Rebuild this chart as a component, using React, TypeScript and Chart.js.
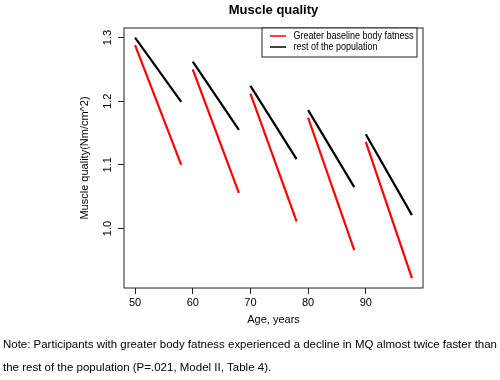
import React, { useEffect, useRef } from "react";
import { Chart, registerables } from "chart.js";

Chart.register(...registerables);

const chartTitle = "Muscle quality";
const xTitle = "Age, years";
const yTitle = "Muscle quality(Nm/cm^2)";
const seriesNames = ["Greater baseline body fatness", "rest of the population"];
const seriesColors = ["#ff0000", "#000000"];
const segmentStartAges = [50, 60, 70, 80, 90];
const segmentEndAges = [58, 68, 78, 88, 98];
const fatnessStart = [1.288, 1.25, 1.212, 1.174, 1.136];
const fatnessEnd = [1.1, 1.056, 1.011, 0.966, 0.922];
const restStart = [1.3, 1.262, 1.224, 1.186, 1.148];
const restEnd = [1.199, 1.155, 1.109, 1.065, 1.021];
const xTicks = [50, 60, 70, 80, 90];
const yTicks = [1.0, 1.1, 1.2, 1.3];
const noteLines = [
  "Note: Participants with greater body fatness experienced a decline in MQ almost twice faster than",
  "the rest of the population (P=.021, Model II, Table 4).",
];

const FONT = "'Liberation Sans', Arial, Helvetica, sans-serif";

function buildSegments(starts: number[], ends: number[]) {
  const pts: { x: number; y: number | null }[] = [];
  for (let i = 0; i < starts.length; i++) {
    pts.push({ x: segmentStartAges[i], y: starts[i] });
    pts.push({ x: segmentEndAges[i], y: ends[i] });
    pts.push({ x: segmentEndAges[i] + 1, y: null });
  }
  return pts;
}

const rStylePlugin = {
  id: "rStyle",
  afterDraw(chart: any) {
    const { ctx, chartArea } = chart;
    const { left, right, top, bottom } = chartArea;
    const xs = chart.scales.x;
    const ys = chart.scales.y;
    ctx.save();
    // box
    ctx.strokeStyle = "#222";
    ctx.lineWidth = 1;
    ctx.strokeRect(left, top, right - left, bottom - top);

    ctx.fillStyle = "#000";
    // title
    ctx.font = `bold 13px ${FONT}`;
    ctx.textAlign = "center";
    ctx.textBaseline = "middle";
    ctx.fillText(chartTitle, (left + right) / 2, 10);

    // x tick labels
    ctx.font = `11px ${FONT}`;
    xTicks.forEach((v) => {
      ctx.fillText(String(v), xs.getPixelForValue(v), 303);
    });
    // x title
    ctx.fillText(xTitle, (left + right) / 2, 320);

    // y tick labels (rotated)
    yTicks.forEach((v) => {
      ctx.save();
      ctx.translate(107.5, ys.getPixelForValue(v));
      ctx.rotate(-Math.PI / 2);
      ctx.fillText(v.toFixed(1), 0, 0);
      ctx.restore();
    });
    // y title
    ctx.save();
    ctx.translate(85, (top + bottom) / 2);
    ctx.rotate(-Math.PI / 2);
    ctx.fillText(yTitle, 0, 0);
    ctx.restore();

    // legend
    const lx0 = right - 161;
    const lx1 = right - 6;
    const ly0 = top;
    const ly1 = top + 29;
    ctx.fillStyle = "#fff";
    ctx.fillRect(lx0, ly0, lx1 - lx0, ly1 - ly0);
    ctx.strokeStyle = "#222";
    ctx.lineWidth = 1;
    ctx.strokeRect(lx0, ly0, lx1 - lx0, ly1 - ly0);
    ctx.font = `10px ${FONT}`;
    ctx.textAlign = "left";
    seriesNames.forEach((name, i) => {
      const y = ly0 + 8 + i * 11;
      ctx.strokeStyle = seriesColors[i];
      ctx.lineWidth = 1.5;
      ctx.beginPath();
      ctx.moveTo(lx0 + 8, y);
      ctx.lineTo(lx0 + 24, y);
      ctx.stroke();
      ctx.fillStyle = "#000";
      const w = ctx.measureText(name).width;
      ctx.fillText(name, lx0 + 31.5, y, w * 0.9);
    });

    // note
    ctx.font = `11.5px ${FONT}`;
    ctx.fillStyle = "#000";
    ctx.textAlign = "left";
    noteLines.forEach((line, i) => {
      ctx.fillText(line, 3, 345 + i * 23, 494);
    });
    ctx.restore();
  },
};

export default function App() {
  const canvasRef = useRef<HTMLCanvasElement | null>(null);

  useEffect(() => {
    const canvas = canvasRef.current;
    if (!canvas) return;
    const chart = new Chart(canvas, {
      type: "line",
      data: {
        datasets: [
          {
            label: seriesNames[0],
            data: buildSegments(fatnessStart, fatnessEnd) as any,
            borderColor: seriesColors[0],
            borderWidth: 2.2,
            pointRadius: 0,
            spanGaps: false,
            tension: 0,
          },
          {
            label: seriesNames[1],
            data: buildSegments(restStart, restEnd) as any,
            borderColor: seriesColors[1],
            borderWidth: 2.2,
            pointRadius: 0,
            spanGaps: false,
            tension: 0,
          },
        ],
      },
      options: {
        responsive: false,
        animation: false,
        devicePixelRatio: 1,
        layout: { padding: { top: 28, right: 77, left: 0, bottom: 0 } },
        plugins: {
          legend: { display: false },
          title: { display: false },
          tooltip: { enabled: false },
        },
        scales: {
          x: {
            type: "linear",
            min: 48.08,
            max: 99.92,
            afterBuildTicks: (s: any) => {
              s.ticks = xTicks.map((v) => ({ value: v }));
            },
            afterFit: (s: any) => {
              s.height = 92;
            },
            grid: {
              display: true,
              drawOnChartArea: false,
              drawTicks: true,
              tickLength: 6,
              tickColor: "#222",
              tickWidth: 1,
            },
            border: { display: false },
            ticks: { display: false },
          },
          y: {
            type: "linear",
            min: 0.9065,
            max: 1.315,
            afterBuildTicks: (s: any) => {
              s.ticks = yTicks.map((v) => ({ value: v }));
            },
            afterFit: (s: any) => {
              s.width = 124;
            },
            grid: {
              display: true,
              drawOnChartArea: false,
              drawTicks: true,
              tickLength: 6,
              tickColor: "#222",
              tickWidth: 1,
            },
            border: { display: false },
            ticks: { display: false },
          },
        },
      },
      plugins: [rStylePlugin],
    });
    return () => chart.destroy();
  }, []);

  return (
    <div style={{ position: "absolute", left: 0, top: 0, width: 500, height: 380, background: "#fff" }}>
      <canvas ref={canvasRef} width={500} height={380} />
    </div>
  );
}
